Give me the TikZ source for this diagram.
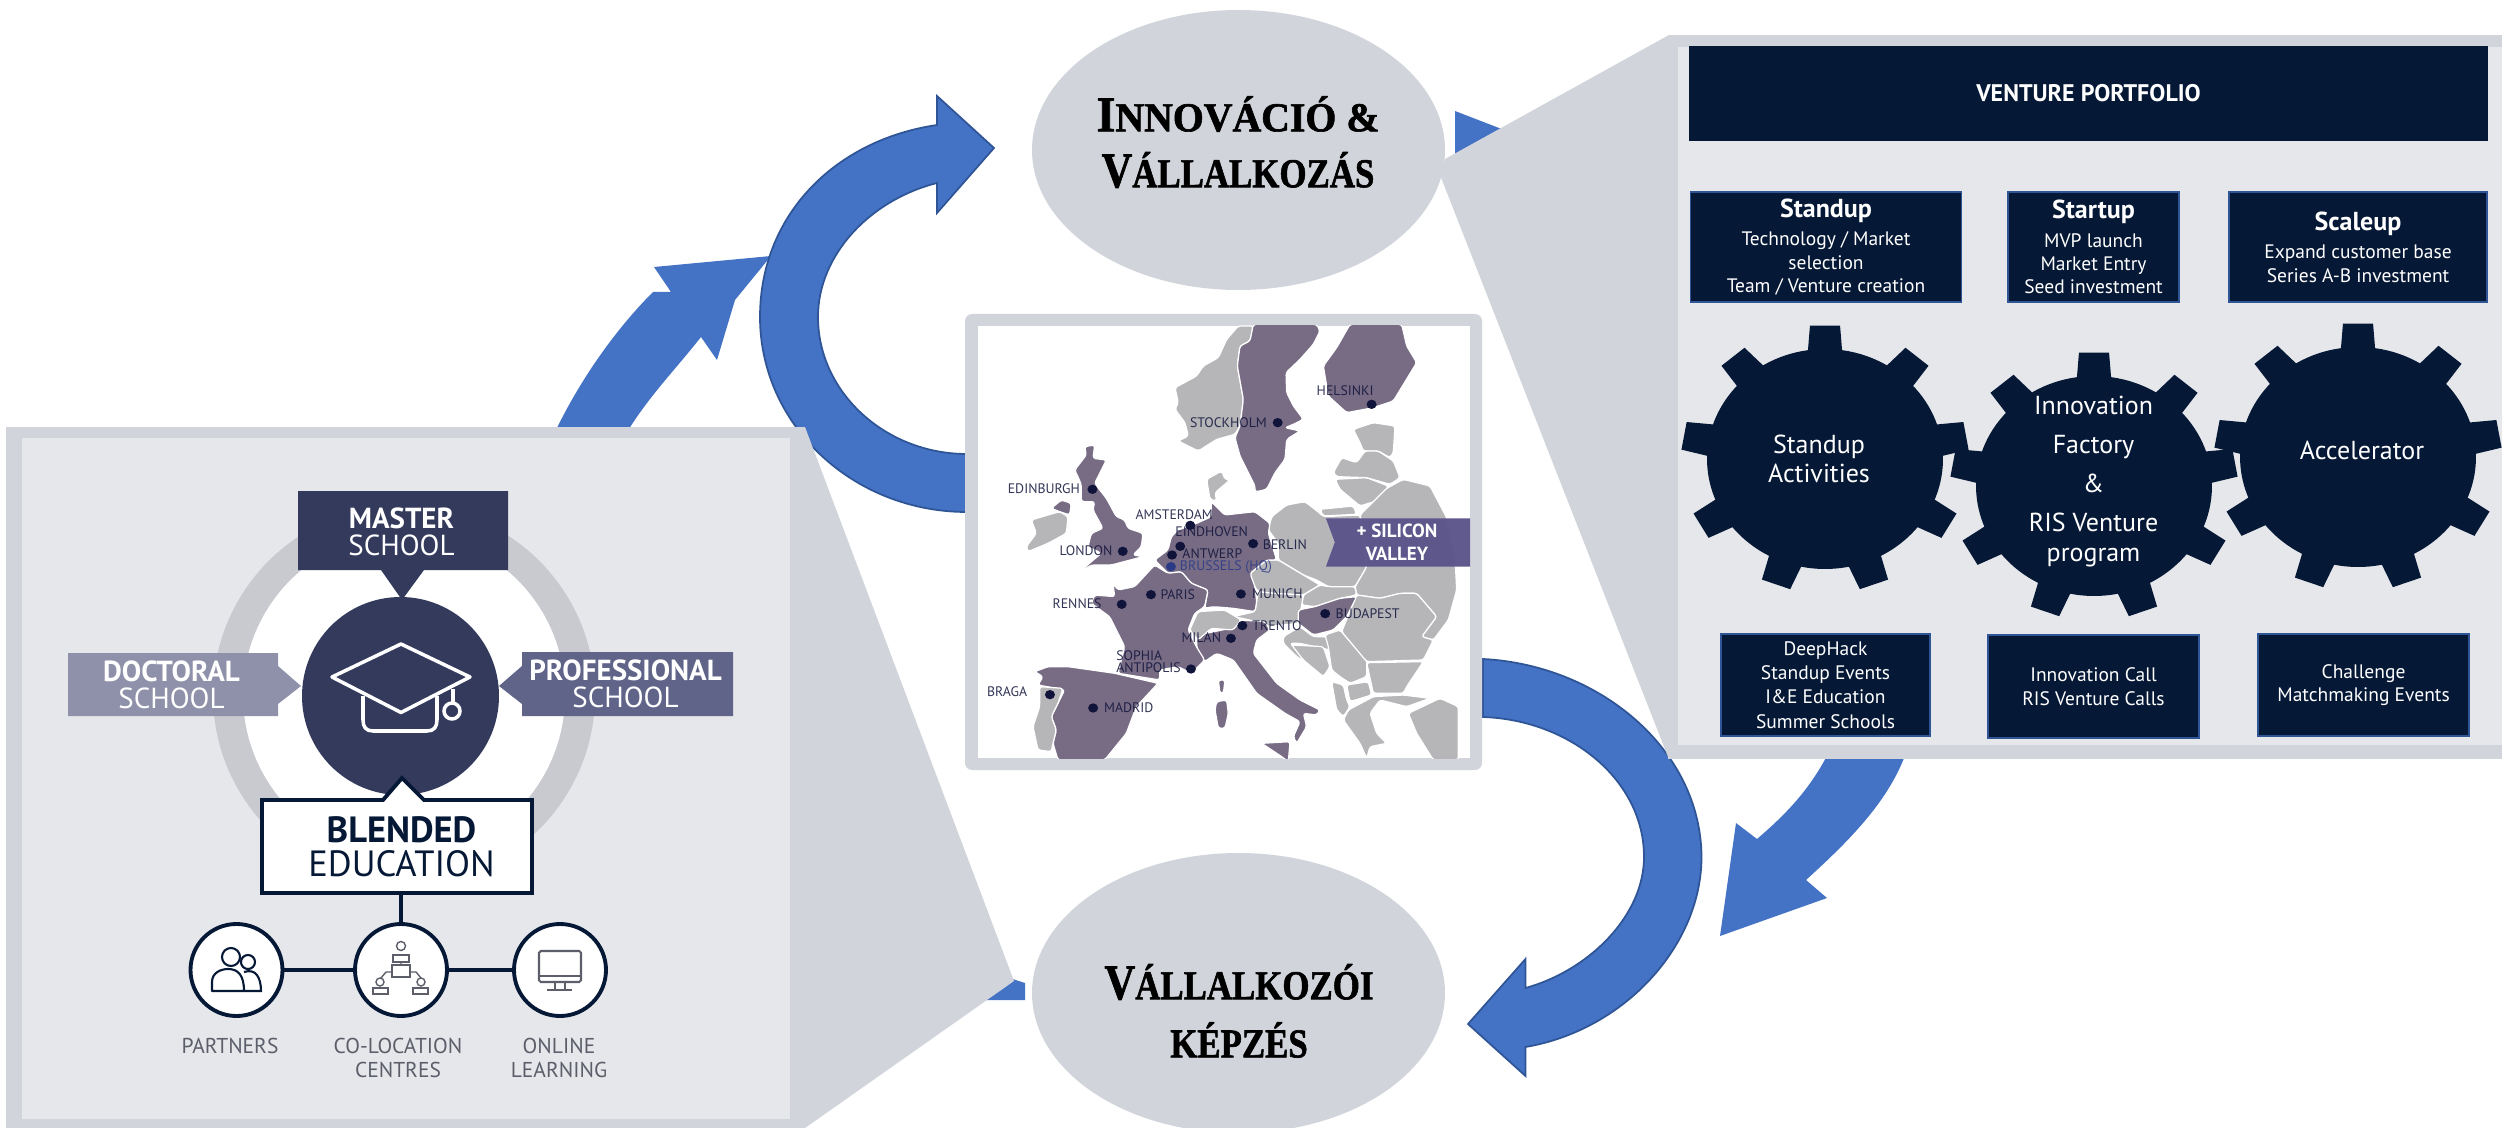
\documentclass[tikz,border=0pt]{standalone}
\usepackage{graphicx}
\usepackage{fontspec}
\setmainfont{PT Sans}
\newfontfamily\capsfont[BoldFeatures={FakeBold=1.5}]{Liberation Serif}
\usetikzlibrary{shapes.geometric}
\newlength\pxu \setlength\pxu{0.02cm}
\newlength\fstmp
\newcommand\pxf[1]{\setlength\fstmp{#1\pxu}\fontsize{\fstmp}{1.2\fstmp}\selectfont}
\definecolor{blueA}{HTML}{4472C4}
\definecolor{blueB}{HTML}{2F5597}
\definecolor{panelO}{HTML}{D1D5DB}
\definecolor{panelI}{HTML}{E6E7EB}
\definecolor{navy}{HTML}{051836}
\definecolor{slate}{HTML}{333A5C}
\definecolor{docc}{HTML}{8E91A9}
\definecolor{proc}{HTML}{5F6488}
\definecolor{ringc}{HTML}{C9CAD0}
\definecolor{mapP}{HTML}{786C85}
\definecolor{mapG}{HTML}{B6B6B9}
\definecolor{cityc}{HTML}{10133A}
\definecolor{hqc}{HTML}{2B3A85}
\definecolor{valley}{HTML}{59528A}
\definecolor{iconl}{HTML}{5C5E6A}
\tikzset{
  flowarrow/.style={fill=blueA,draw=blueB,line width=1pt},
  flowtip/.style={fill=blueA},
  oval/.style={ellipse,fill=panelO,minimum width=413\pxu,minimum height=280\pxu,inner sep=0pt,align=center},
  vbox/.style 2 args={rectangle,fill=navy,draw=blueB,line width=1pt,minimum width=#1\pxu,minimum height=#2\pxu,inner sep=0pt,text=white,align=center,font=\pxf{19.5}},
  geartxt/.style={text=white,align=center,font=\pxf{26}},
  schooltxt/.style={text=white,align=center,font=\pxf{29}},
  foot/.style={text=iconl,align=center,font=\pxf{21.5}},
  hub/.style={circle,fill=white,draw=navy,line width=2.2pt,minimum size=92\pxu,inner sep=0pt},
  polyP/.style={fill=mapP,draw=white,line width=.7pt,line join=round,rounded corners=1.5pt},
  polyG/.style={fill=mapG,draw=white,line width=.7pt,line join=round,rounded corners=1.5pt},
  city/.style={text=cityc,text opacity=.85,font=\pxf{13.8},inner sep=0pt,align=center},
  captxt/.style={font=\capsfont\bfseries,inner sep=0pt,align=center},
  cropN/.style={shift={(1160,326)},x=0.006667cm,y=-0.006667cm},
  cropE/.style={shift={(1200,480)},x=0.006667cm,y=-0.006667cm},
  cropW/.style={shift={(978,440)},x=0.006667cm,y=-0.006667cm},
}
\newcommand\caphead[2]{{\pxf{50}#1}{\pxf{41}#2}}
\newcommand\gearbody[2]{%
  \begin{scope}[shift={(#1,#2)},x=2.36cm,y=2.2cm]
    \fill[navy] (0,0) circle [radius=1];
    \foreach \a in {90,50,10,-30,-70,-110,-150,170,130}{
      \fill[navy] (\a-9:.95) -- (\a-6:1.22) -- (\a+6:1.22) -- (\a+9:.95) -- cycle;
    }
  \end{scope}}
\begin{document}
\begin{tikzpicture}[x=0.02cm,y=-0.02cm]
\useasboundingbox (0,0) rectangle (2502,1128);
\fill[white] (0,0) rectangle (2502,1128);

% ---- arrows (behind everything)
\fill[flowtip] (555,432) .. controls (580,380) and (615,330) .. (653,292) -- (671,292) -- (654,267) -- (771,256) -- (735,300) -- (717,360) -- (701,337) .. controls (675,370) and (650,395) .. (627,432) -- cycle;
\draw[flowarrow] (967,512) .. controls (853,512) and (760,425) .. (760,317) .. controls (760,215) and (835,140) .. (937,125) -- (937,96) -- (994,148) -- (937,213) -- (937,183) .. controls (870,200) and (818,255) .. (818,317) .. controls (818,392) and (885,454) .. (967,454) -- cycle;
\draw[flowarrow] (1483,659) .. controls (1600,665) and (1701,750) .. (1701.5,857) .. controls (1701.5,945) and (1625,1030) .. (1525.5,1047) -- (1525.5,1076) -- (1468,1024) -- (1525.5,959) -- (1525.5,988) .. controls (1590,970) and (1644,915) .. (1644,857) .. controls (1644,780) and (1570,720) .. (1483,717) -- cycle;
\fill[flowtip] (1830,750) .. controls (1810,790) and (1785,815) .. (1757,839) -- (1736,823) -- (1720,936) -- (1827,898) -- (1806,880) .. controls (1850,840) and (1890,800) .. (1907,750) -- cycle;
\fill[flowtip] (1455,111) -- (1530,140) -- (1455,165) -- cycle;
\fill[flowtip] (985,1000) -- (1025,1000) -- (1025,983) -- (1000,975) -- cycle;

% ---- left panel
\fill[panelO] (805,427) -- (1014,981) -- (805,1128) -- cycle;
\fill[panelO] (6,427) rectangle (805,1128);
\fill[panelI] (22,438) rectangle (790,1119);

\fill[ringc] (404,695) ellipse [x radius=191,y radius=190];
\fill[white] (404,695) ellipse [x radius=161,y radius=162];
\path[fill=slate] (298,491) -- (508,491) -- (508,570) -- (424,570) -- (402,600) -- (381,570) -- (298,570) -- cycle;
\path[fill=docc] (68,653) -- (278,653) -- (278,666) -- (301,686) -- (278,704) -- (278,716) -- (68,716) -- cycle;
\path[fill=proc] (733,652) -- (522,652) -- (522,666) -- (499,686) -- (522,704) -- (522,716) -- (733,716) -- cycle;
\fill[slate] (400.5,696) ellipse [x radius=98.5,y radius=99];
\draw[white,line width=2pt,line join=round] (332,677) -- (401,644) -- (470,677) -- (401,712.5) -- cycle;
\draw[white,line width=2pt,line join=round] (363,696) -- (363,720) .. controls (363,727) and (366,731) .. (373,731) -- (427,731) .. controls (434,731) and (437,727) .. (437,720) -- (437,696);
\draw[white,line width=2pt] (453,689) -- (453,703);
\draw[white,line width=2pt] (452,711) circle [radius=8];

\path[fill=white,draw=navy,line width=2.2pt,line join=miter] (262,800) -- (383,800) -- (402,778) -- (424,800) -- (532,800) -- (532,893) -- (262,893) -- cycle;

\node[schooltxt] (master) at (401.5,532) {{\bfseries MASTER}\\[-4.7pt]SCHOOL};
\node[schooltxt] (doctoral) at (171.5,685) {{\bfseries DOCTORAL}\\[-4.7pt]SCHOOL};
\node[schooltxt] (professional) at (625.5,684) {{\bfseries PROFESSIONAL}\\[-4.7pt]SCHOOL};
\node[inner sep=0pt,align=center,text=navy,font=\pxf{36.5}] (blended) at (401.5,846.5) {{\bfseries BLENDED}\\[-5.5pt]EDUCATION};

\node[hub] (partners) at (236.5,970) {};
\node[hub] (colo) at (401,970) {};
\node[hub] (online) at (560,970) {};
\coordinate (blendfoot) at (401,893);
\draw[navy,line width=2.2pt] (blendfoot) -- (colo);
\draw[navy,line width=2.2pt] (partners) -- (colo);
\draw[navy,line width=2.2pt] (colo) -- (online);

% partners icon
\draw[navy,line width=1.2pt] (231,957) circle [radius=9];
\draw[navy,line width=1.2pt] (248,962) circle [radius=7];
\draw[navy,line width=1.2pt,line join=round] (212,991) -- (212,982) .. controls (212,972) and (222,969) .. (228,969) .. controls (238,969) and (244,975) .. (244,991) -- cycle;
\draw[navy,line width=1.2pt] (244,972) .. controls (256,968) and (261,978) .. (261,991) -- (244,991);
% co-location icon
\draw[iconl,line width=.8pt] (401,946) circle [radius=4.5];
\draw[iconl,line width=.8pt] (393,962) -- (393,955) -- (409,955) -- (409,962) -- cycle;
\draw[iconl,line width=.8pt] (392,965) rectangle (410,977);
\draw[iconl,line width=.8pt] (401,962) -- (401,965) (392,972) -- (386,972) -- (381,978) (410,972) -- (416,972) -- (421,978);
\draw[iconl,line width=.8pt] (380,982) circle [radius=4];
\draw[iconl,line width=.8pt] (373,994) -- (373,988) -- (388,988) -- (388,994) -- cycle;
\draw[iconl,line width=.8pt] (421,982) circle [radius=4];
\draw[iconl,line width=.8pt] (413,994) -- (413,988) -- (428,988) -- (428,994) -- cycle;
% online icon
\draw[iconl,line width=1.2pt,rounded corners=1pt] (539,951) rectangle (581,982);
\draw[iconl,line width=1.2pt] (539,976) -- (581,976) (555,982) -- (555,990) (565,982) -- (565,990) (547,990) -- (572,990);

\node[foot] (lblpartners) at (230,1046) {PARTNERS};
\node[foot] (lblcolo) at (398,1058) {CO-LOCATION\\[-1pt]CENTRES};
\node[foot] (lblonline) at (559,1058) {ONLINE\\[-1pt]LEARNING};

% ---- right panel
\fill[panelO] (1669,35) -- (1445,159) -- (1440,175) -- (1668,757) -- cycle;
\fill[panelO] (1668,35) rectangle (2502,759);
\fill[panelI] (1678,47) rectangle (2502,745);

\node[vbox={797}{93},draw=navy,font=\pxf{24}\bfseries] (portfolio) at (2088.5,93.5) {VENTURE PORTFOLIO};
\node[vbox={271}{110}] (standup) at (1826,247) {{\pxf{26}\bfseries Standup}\\[2.9pt]Technology / Market\\selection\\Team / Venture creation};
\node[vbox={171}{110}] (startup) at (2093.5,247) {{\pxf{26}\bfseries Startup}\\[2.9pt]MVP launch\\Market Entry\\Seed investment};
\node[vbox={258}{110}] (scaleup) at (2358,247) {{\pxf{26}\bfseries Scaleup}\\[2.9pt]Expand customer base\\Series A-B investment};

\gearbody{1825}{459}
\gearbody{2094}{486}
\gearbody{2358}{457}
\node[geartxt] (gearA) at (1819,458.5) {Standup\\[-1.2pt]Activities};
\node[geartxt] (gearB) at (2093.5,481.5) {Innovation\\[4.4pt]Factory\\[4.4pt]\&\\[4.4pt]RIS Venture\\[-.8pt]program};
\node[geartxt] (gearC) at (2362,450.5) {Accelerator};

\node[vbox={209}{102.5}] (deephack) at (1825.5,685) {DeepHack\\[.5pt]Standup Events\\[.5pt]I\&E Education\\[.5pt]Summer Schools};
\node[vbox={211}{103}] (call) at (2093.5,686.5) {Innovation Call\\RIS Venture Calls};
\node[vbox={211}{102.5}] (challenge) at (2363.5,685) {Challenge\\Matchmaking Events};

% ---- ovals
\node[oval] (inno) at (1238.5,150) {};
\node[oval] (edu) at (1238.5,993) {};
\node[captxt] (innotxt) at (1238,114) {\scalebox{.97}[1]{\caphead{I}{NNOVÁCIÓ \&}}};
\node[captxt] (innotxt2) at (1238,170) {\scalebox{.85}[1]{\caphead{V}{ÁLLALKOZÁS}}};
\node[captxt] (edutxt) at (1239,982) {\scalebox{.85}[1]{\caphead{V}{ÁLLALKOZÓI}}};
\node[captxt] (edutxt2) at (1239,1040) {\scalebox{.85}[1]{{\pxf{41}KÉPZÉS}}};

% ---- map
\fill[panelO,rounded corners=4pt] (965,314) rectangle (1482,770);
\fill[white] (977.5,326) rectangle (1470,758);
\begin{scope}
\clip (977.5,326) rectangle (1470,758);
\begin{scope}[cropN]
\draw[polyG] (235,0) -- (200,40) -- (175,95) -- (130,120) -- (110,150) -- (45,185) -- (55,230) -- (45,250) -- (75,290) -- (85,330) -- (55,345) -- (115,375) -- (170,340) -- (225,325) -- (240,300) -- (250,220) -- (232,120) -- (240,60) -- (270,45) -- (280,0) -- cycle;
\draw[polyP] (280,-5) -- (270,45) -- (240,60) -- (232,120) -- (250,220) -- (240,300) -- (225,335) -- (240,390) -- (285,480) -- (285,498) -- (320,490) -- (345,440) -- (375,400) -- (380,340) -- (420,315) -- (375,305) -- (400,295) -- (430,280) -- (400,240) -- (380,200) -- (378,140) -- (420,100) -- (460,55) -- (480,15) -- (470,-5) -- cycle;
\draw[polyP] (570,-5) -- (530,65) -- (490,120) -- (505,210) -- (560,260) -- (640,245) -- (700,225) -- (770,110) -- (740,60) -- (725,-5) -- cycle;
\draw[polyG] (140,460) -- (185,435) -- (195,460) -- (210,462) -- (165,500) -- (170,525) -- (150,520) -- cycle;
\draw[polyG] (580,310) -- (640,290) -- (705,300) -- (700,380) -- (690,395) -- (655,375) -- (610,375) -- (600,350) -- cycle;
\draw[polyG] (520,440) -- (545,395) -- (590,410) -- (615,375) -- (655,375) -- (700,405) -- (720,455) -- (690,475) -- (620,455) -- (530,452) -- cycle;
\draw[polyG] (525,460) -- (620,455) -- (685,480) -- (665,520) -- (600,540) -- (540,490) -- cycle;
\draw[polyG] (480,550) -- (580,540) -- (590,565) -- (490,570) -- cycle;
\end{scope}
\begin{scope}[cropE]
\draw[polyG] (480,105) -- (560,25) -- (610,-2) -- (690,18) -- (740,113) -- (765,230) -- (770,330) -- (745,420) -- (700,480) -- (665,470) -- (710,410) -- (650,340) -- (600,340) -- (540,355) -- (470,345) -- (465,320) -- (500,260) -- (490,170) -- cycle;
\draw[polyG] (215,110) -- (260,75) -- (315,65) -- (360,100) -- (370,110) -- (480,105) -- (490,170) -- (500,260) -- (465,320) -- (385,320) -- (350,300) -- (310,285) -- (235,240) -- (235,190) -- (205,150) -- cycle;
\draw[polyG] (150,280) -- (200,240) -- (235,240) -- (310,285) -- (360,315) -- (310,345) -- (220,340) -- (175,335) -- (150,300) -- cycle;
\draw[polyG] (310,345) -- (360,315) -- (385,320) -- (465,320) -- (470,345) -- (420,355) -- (345,380) -- (305,375) -- cycle;
\draw[polyG] (170,365) -- (175,335) -- (220,340) -- (310,345) -- (305,375) -- (295,430) -- (205,440) -- (150,420) -- (100,410) -- (165,395) -- cycle;
\draw[polyG] (250,470) -- (300,440) -- (340,470) -- (380,470) -- (390,510) -- (300,490) -- (270,490) -- (310,530) -- (370,590) -- (340,560) -- (290,530) -- (250,490) -- cycle;
\draw[polyG] (275,495) -- (370,500) -- (390,560) -- (370,590) -- (310,540) -- cycle;
\draw[polyG] (375,465) -- (420,450) -- (500,540) -- (500,590) -- (450,610) -- (420,590) -- (395,570) -- (385,500) -- cycle;
\draw[polyG] (425,455) -- (470,345) -- (540,355) -- (600,340) -- (650,340) -- (710,410) -- (665,470) -- (700,480) -- (670,540) -- (500,545) -- cycle;
\draw[polyG] (500,548) -- (670,545) -- (620,620) -- (610,640) -- (520,640) -- cycle;
\draw[polyG] (440,615) -- (505,605) -- (515,645) -- (450,665) -- cycle;
\draw[polyG] (395,605) -- (430,615) -- (440,660) -- (450,680) -- (430,710) -- (410,690) -- cycle;
\draw[polyG] (445,690) -- (520,650) -- (610,645) -- (690,655) -- (620,680) -- (540,660) -- (510,700) -- (530,760) -- (560,790) -- (510,800) -- (500,835) -- (480,790) -- (430,720) -- cycle;
\draw[polyG] (625,700) -- (720,655) -- (775,680) -- (775,840) -- (700,840) -- (650,760) -- cycle;
\draw[polyP] (295,390) -- (345,380) -- (420,355) -- (470,350) -- (440,410) -- (400,450) -- (340,465) -- (295,430) -- cycle;
\draw[polyP] (34,65) -- (74,105) -- (165,95) -- (210,130) -- (205,160) -- (230,240) -- (200,240) -- (150,280) -- (165,320) -- (170,365) -- (165,395) -- (100,385) -- (40,380) -- (14,385) -- (24,330) -- (-26,310) -- (-56,275) -- (-96,280) -- (-136,240) -- (-96,210) -- (-86,170) -- (-66,150) -- (-10,130) -- (34,110) -- cycle;
\draw[polyP] (-11,490) -- (-5,465) -- (90,445) -- (120,420) -- (195,425) -- (210,450) -- (170,480) -- (160,520) -- (230,610) -- (300,660) -- (360,690) -- (350,705) -- (310,700) -- (320,740) -- (290,790) -- (280,770) -- (300,725) -- (255,700) -- (170,640) -- (100,540) -- (50,520) -- (14,545) -- (-5,520) -- cycle;
\draw[polyP] (185,790) -- (270,785) -- (265,845) -- (245,830) -- cycle;
\draw[polyP] (50,665) -- (80,660) -- (85,700) -- (75,745) -- (55,745) -- (45,690) -- cycle;
\draw[polyP] (55,600) -- (75,600) -- (70,640) -- (60,640) -- cycle;
\end{scope}
\begin{scope}[cropW]
\draw[polyP] (290,90) -- (325,45) -- (320,20) -- (350,15) -- (345,55) -- (385,60) -- (350,130) -- (385,175) -- (415,230) -- (440,240) -- (450,265) -- (495,280) -- (490,320) -- (465,345) -- (495,350) -- (400,375) -- (340,375) -- (295,405) -- (340,365) -- (370,340) -- (330,320) -- (340,280) -- (375,265) -- (345,210) -- (350,185) -- (310,185) -- (310,135) -- (300,110) -- cycle;
\draw[polyG] (160,240) -- (210,225) -- (245,215) -- (270,230) -- (265,280) -- (210,310) -- (150,335) -- (145,320) -- (175,280) -- cycle;
\draw[polyP] (220,205) -- (250,180) -- (280,190) -- (275,225) -- (245,215) -- cycle;
\draw[polyP] (405,430) -- (420,450) -- (470,440) -- (530,375) -- (570,400) -- (610,395) -- (640,430) -- (690,450) -- (680,500) -- (650,520) -- (630,570) -- (655,620) -- (680,660) -- (640,700) -- (600,680) -- (545,690) -- (545,720) -- (420,700) -- (440,620) -- (420,580) -- (395,530) -- (340,490) -- (350,465) -- (410,470) -- cycle;
\draw[polyP] (170,695) -- (210,680) -- (270,680) -- (410,700) -- (540,730) -- (475,800) -- (445,880) -- (380,960) -- (240,960) -- (225,910) -- (235,870) -- (220,830) -- (240,790) -- (260,750) -- (180,735) -- (195,710) -- cycle;
\draw[polyG] (185,740) -- (255,745) -- (240,790) -- (220,830) -- (235,870) -- (225,910) -- (220,935) -- (180,930) -- (165,860) -- (185,800) -- cycle;
\draw[polyG] (635,570) -- (660,515) -- (740,510) -- (790,540) -- (765,570) -- (700,565) -- (660,600) -- cycle;
\end{scope}
\end{scope}
\begin{scope}[shift={(950,300)},x=0.00714cm,y=-0.006667cm]
% banner
\path[fill=valley,fill opacity=.95] (1053,655) -- (1457,655) -- (1457,800) -- (1053,800) -- (1078,727) -- cycle;
\node[text=white,align=center,font=\pxf{19}\bfseries] (silicon) at (1252,726) {+ SILICON\\VALLEY};
% cities
\foreach \cx/\cy in {1181/313,918/368,399/568,673/676,645/739,849/731,484/754,622/765,563/884,815/882,481/913,1051/941,819/977,787/1015,675/1107,280/1184,401/1224}{
  \fill[cityc] (\cx,\cy) ellipse [x radius=14,y radius=14];
}
\fill[hqc] (619,800) ellipse [x radius=14,y radius=14];
\foreach \lx/\ly/\lt [count=\li] in {1107/272/HELSINKI,780/368/STOCKHOLM,263/566/EDINBURGH,628/643/AMSTERDAM,733/694/EINDHOVEN,938/733/BERLIN,381/753/LONDON,735/760/ANTWERP,638/884/PARIS,917/882/MUNICH,356/911/RENNES,1170/941/BUDAPEST,916/977/TRENTO,704/1014/MILAN,160/1175/BRAGA,501/1222/MADRID}{
  \node[city] (city\li) at (\lx,\ly) {\lt};
}
\node[city,text=hqc] (cityhq) at (773,800) {BRUSSELS (HQ)};
\node[city,anchor=west,align=left] (citysophia) at (465,1086) {SOPHIA\\[-2.5pt]ANTIPOLIS};
\end{scope}
\end{tikzpicture}
\end{document}
